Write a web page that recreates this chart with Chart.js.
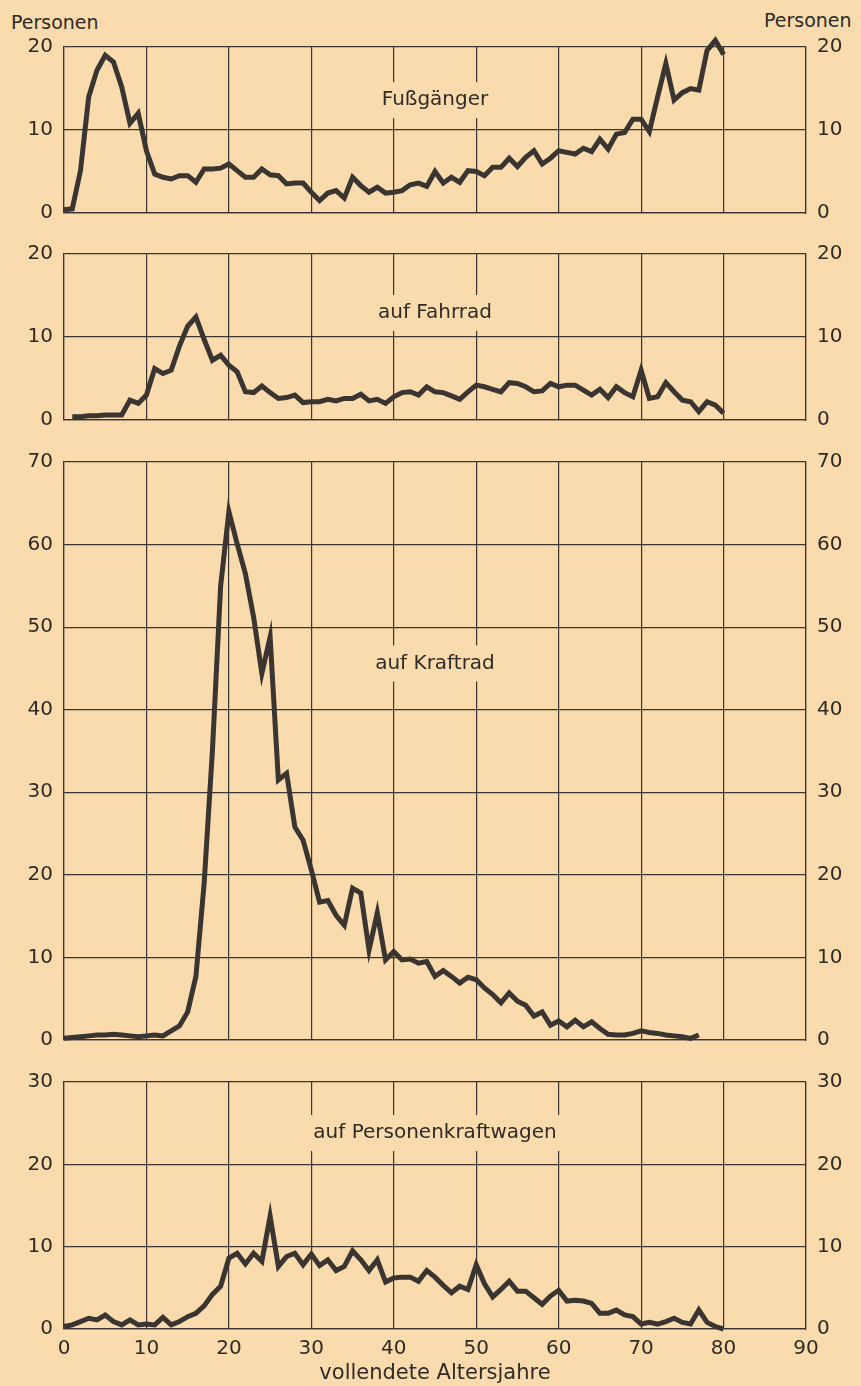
<!DOCTYPE html>
<html lang="de">
<head>
<meta charset="UTF-8">
<script src="https://cdn.jsdelivr.net/npm/chart.js"></script>
<title>Verunglückte nach Altersjahren</title>
<style>
  body { margin: 0; background: #f9dbad; }
  #page { position: relative; width: 861px; height: 1386px; background: #f9dbad; overflow: hidden;
          font-family: "DejaVu Sans", sans-serif; color: #2f2b27; }
  canvas { position: absolute; left: 0; }
  .lbl { position: absolute; font-size: 19px; line-height: 20px; }
</style>
</head>
<body>
<div id="page">
  <div class="lbl" style="left:11px; top:12px;">Personen</div>
  <div class="lbl" style="left:764px; top:10px;">Personen</div>
  <canvas id="c1" width="861" height="214" style="top:23px"></canvas>
  <canvas id="c2" width="861" height="214" style="top:230px"></canvas>
  <canvas id="c3" width="861" height="626" style="top:438px"></canvas>
  <canvas id="c4" width="861" height="328" style="top:1058px"></canvas>
</div>
<script>
// vollendete Altersjahre 0..80
const ages = Array.from({length: 81}, (_, i) => i);

const fussgaenger = [0.4, 0.5, 5.1, 14, 17.2, 19, 18.2, 15.2, 10.8, 12,
  7.5, 4.7, 4.3, 4.1, 4.5, 4.5, 3.7, 5.3, 5.3, 5.4,
  5.9, 5.1, 4.3, 4.3, 5.3, 4.6, 4.5, 3.5, 3.6, 3.6,
  2.5, 1.5, 2.4, 2.7, 1.8, 4.3, 3.3, 2.5, 3.1, 2.4,
  2.5, 2.7, 3.4, 3.6, 3.2, 5.0, 3.6, 4.3, 3.7, 5.1,
  5.0, 4.5, 5.5, 5.5, 6.6, 5.6, 6.7, 7.5, 5.9, 6.6,
  7.5, 7.3, 7.1, 7.8, 7.4, 8.9, 7.7, 9.5, 9.7, 11.3,
  11.3, 9.8, 14, 18, 13.6, 14.5, 15.0, 14.8, 19.6, 20.8,
  19.1];

const fahrrad = [null, 0.4, 0.4, 0.5, 0.5, 0.6, 0.6, 0.6, 2.4, 2.0,
  3.0, 6.2, 5.6, 6.0, 8.9, 11.3, 12.4, 9.7, 7.2, 7.8,
  6.6, 5.8, 3.4, 3.3, 4.1, 3.3, 2.6, 2.7, 3.0, 2.1,
  2.2, 2.2, 2.5, 2.3, 2.6, 2.6, 3.1, 2.3, 2.5, 2.0,
  2.8, 3.3, 3.4, 3.0, 4.0, 3.4, 3.3, 2.9, 2.5, 3.4,
  4.2, 4.0, 3.7, 3.4, 4.5, 4.4, 4.0, 3.4, 3.5, 4.4,
  4.0, 4.2, 4.2, 3.6, 3.0, 3.7, 2.7, 4.0, 3.3, 2.8,
  6.0, 2.6, 2.8, 4.5, 3.4, 2.4, 2.2, 1.0, 2.2, 1.8,
  0.8];

const kraftrad = [0.2, 0.3, 0.4, 0.5, 0.6, 0.6, 0.7, 0.6, 0.5, 0.4,
  0.5, 0.6, 0.5, 1.1, 1.7, 3.4, 7.7, 19, 35, 55,
  64, 60.1, 56.5, 51.2, 44.4, 48.8, 31.5, 32.3, 25.8, 24.2,
  20.6, 16.7, 16.9, 15.1, 13.9, 18.4, 17.8, 10.9, 15.4, 9.7,
  10.7, 9.7, 9.8, 9.3, 9.5, 7.7, 8.4, 7.7, 6.9, 7.6,
  7.3, 6.3, 5.5, 4.5, 5.7, 4.7, 4.2, 2.9, 3.4, 1.8,
  2.3, 1.6, 2.4, 1.6, 2.2, 1.4, 0.7, 0.6, 0.6, 0.8,
  1.1, 0.9, 0.8, 0.6, 0.5, 0.4, 0.2, 0.6, null, null,
  null];

const pkw = [0.3, 0.5, 0.9, 1.3, 1.1, 1.7, 0.9, 0.5, 1.1, 0.5,
  0.6, 0.5, 1.4, 0.5, 0.9, 1.5, 1.9, 2.8, 4.2, 5.2,
  8.6, 9.2, 7.9, 9.2, 8.2, 13.7, 7.6, 8.8, 9.2, 7.8,
  9.1, 7.7, 8.4, 7.1, 7.6, 9.5, 8.4, 7.1, 8.4, 5.7,
  6.2, 6.3, 6.3, 5.8, 7.1, 6.3, 5.3, 4.4, 5.2, 4.8,
  7.8, 5.5, 3.9, 4.8, 5.8, 4.6, 4.6, 3.8, 3.0, 4.0,
  4.7, 3.4, 3.5, 3.4, 3.1, 1.9, 1.9, 2.3, 1.7, 1.5,
  0.6, 0.8, 0.6, 0.9, 1.3, 0.8, 0.6, 2.3, 0.8, 0.3,
  0];

const panelTitles = ['Fußgänger', 'auf Fahrrad', 'auf Kraftrad', 'auf Personenkraftwagen'];
const panelMax = [20, 20, 70, 30];
const xTitle = 'vollendete Altersjahre';

const ink = '#3a3531';
const paper = '#f9dbad';
const font = { family: 'DejaVu Sans', size: 20 };

// Titel im Feld, mit Papierfarbe hinterlegt (unterbricht die Gitterlinie)
const panelTitle = {
  id: 'panelTitle',
  beforeDatasetsDraw(chart, args, opts) {
    const ctx = chart.ctx;
    const x = chart.scales.x.getPixelForValue(opts.x);
    const y = chart.scales.y.getPixelForValue(opts.y);
    ctx.save();
    ctx.font = '20px "DejaVu Sans"';
    const w = ctx.measureText(opts.text).width;
    ctx.fillStyle = paper;
    ctx.fillRect(x - w / 2 - 4, y - 18, w + 8, 36);
    ctx.fillStyle = '#2f2b27';
    ctx.textAlign = 'center';
    ctx.textBaseline = 'middle';
    ctx.fillText(opts.text, x, y);
    ctx.restore();
  }
};

function makePanel(id, values, max, title, titleY, last) {
  const yTicks = {
    color: '#2f2b27', font: font, stepSize: 10, padding: 11
  };
  new Chart(document.getElementById(id), {
    type: 'line',
    data: {
      datasets: [{
        data: ages.map((a, i) => ({ x: a, y: values[i] })),
        borderColor: ink,
        borderWidth: 5,
        pointRadius: 0,
        tension: 0,
        clip: false
      }]
    },
    options: {
      responsive: false,
      animation: false,
      layout: { padding: { top: 24, left: 0, right: 0, bottom: 0 } },
      plugins: {
        legend: { display: false },
        tooltip: { enabled: false },
        panelTitle: { text: title, x: 45, y: titleY }
      },
      scales: {
        x: {
          type: 'linear', min: 0, max: 90,
          ticks: { display: last, stepSize: 10, color: '#2f2b27', font: font, padding: 8, maxRotation: 0 },
          grid: { color: ink, lineWidth: 1.2, drawTicks: false },
          border: { display: true, color: ink, width: 1.2 },
          title: { display: last, text: xTitle, color: '#2f2b27',
                   font: { family: 'DejaVu Sans', size: 21 }, padding: { top: 0, bottom: 0 } },
          afterFit: s => { s.height = last ? 57 : 24; }
        },
        y: {
          position: 'left', min: 0, max: max,
          ticks: yTicks,
          grid: { color: ink, lineWidth: 1.2, drawTicks: false },
          border: { display: true, color: ink, width: 1.2 },
          afterFit: s => { s.width = 64; }
        },
        y2: {
          position: 'right', min: 0, max: max,
          ticks: yTicks,
          grid: { display: false, drawTicks: false },
          border: { display: true, color: ink, width: 1.2 },
          afterFit: s => { s.width = 55; }
        }
      }
    },
    plugins: [panelTitle]
  });
}

makePanel('c1', fussgaenger, panelMax[0], panelTitles[0], 13.6, false);
makePanel('c2', fahrrad, panelMax[1], panelTitles[1], 12.9, false);
makePanel('c3', kraftrad, panelMax[2], panelTitles[2], 45.6, false);
makePanel('c4', pkw, panelMax[3], panelTitles[3], 23.8, true);
</script>
</body>
</html>
